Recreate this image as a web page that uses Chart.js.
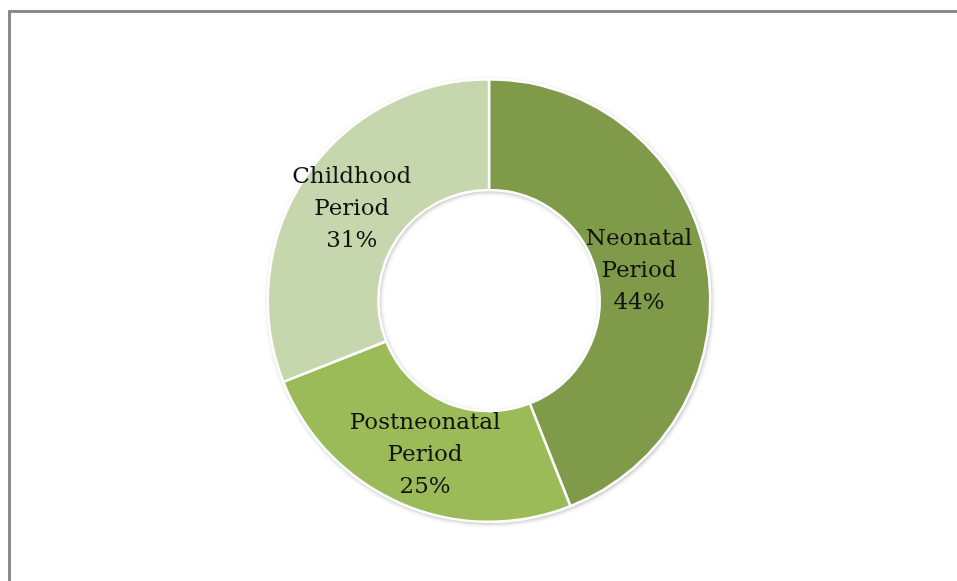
<!DOCTYPE html>
<html>
<head>
<meta charset="utf-8">
<script src="https://cdn.jsdelivr.net/npm/chart.js@4"></script>
<style>
  html, body { margin: 0; padding: 0; background: #fff; overflow: hidden; }
  #wrap { position: relative; width: 957px; height: 581px; }
  #frame {
    position: absolute; left: 8px; top: 10px; width: 1200px; height: 1200px;
    border-left: 3px solid #8a8a8a; border-top: 3px solid #8a8a8a;
  }
  canvas { position: absolute; left: 0; top: 0; }
</style>
</head>
<body>
<div id="wrap">
  <div id="frame"></div>
  <canvas id="periodChart" width="957" height="581"></canvas>
</div>
<script>
// Share of deaths by period
const categories = ["Neonatal Period", "Postneonatal Period", "Childhood Period"];
const labelLines = [["Neonatal", "Period"], ["Postneonatal", "Period"], ["Childhood", "Period"]];
const shares = [44, 25, 31];
const colors = ["#7f9b4a", "#9bbb59", "#c6d7ad"];
const labelNudgeX = [-13, 2, 0];

// soft shadow round the ring, drawn once behind the slices
const shadowPlugin = {
  id: "ringShadow",
  beforeDatasetsDraw(chart) {
    const arc = chart.getDatasetMeta(0).data[0];
    if (!arc) return;
    const c = chart.ctx;
    c.save();
    c.shadowColor = "rgba(0,0,0,0.35)";
    c.shadowBlur = 5;
    c.shadowOffsetX = 1;
    c.shadowOffsetY = 1.5;
    c.fillStyle = "#fff";
    c.beginPath();
    c.arc(arc.x, arc.y, arc.outerRadius, 0, Math.PI * 2);
    c.arc(arc.x, arc.y, arc.innerRadius, 0, Math.PI * 2, true);
    c.fill("evenodd");
    c.restore();
  },
};

// labels inside each slice
const sliceLabels = {
  id: "sliceLabels",
  afterDraw(chart) {
    const c = chart.ctx;
    const meta = chart.getDatasetMeta(0);
    c.save();
    c.font = "23px 'DejaVu Serif'";
    c.fillStyle = "#111";
    c.textAlign = "center";
    c.textBaseline = "middle";
    meta.data.forEach((arc, i) => {
      const p = arc.tooltipPosition();
      const lines = [...labelLines[i], shares[i] + "%"];
      const lh = 32;
      lines.forEach((t, j) => {
        c.fillText(t, p.x + labelNudgeX[i], p.y + 2 + (j - 1) * lh);
      });
    });
    c.restore();
  },
};

const ctx = document.getElementById("periodChart").getContext("2d");
new Chart(ctx, {
  type: "doughnut",
  data: {
    labels: categories,
    datasets: [
      {
        data: shares,
        backgroundColor: colors,
        borderColor: "#ffffff",
        borderWidth: 2.5,
      },
    ],
  },
  options: {
    responsive: false,
    animation: false,
    cutout: "50%",
    layout: { padding: { top: 78, bottom: 58, left: 21, right: 0 } },
    plugins: {
      legend: { display: false },
      tooltip: { enabled: false },
    },
  },
  plugins: [shadowPlugin, sliceLabels],
});
</script>
</body>
</html>
